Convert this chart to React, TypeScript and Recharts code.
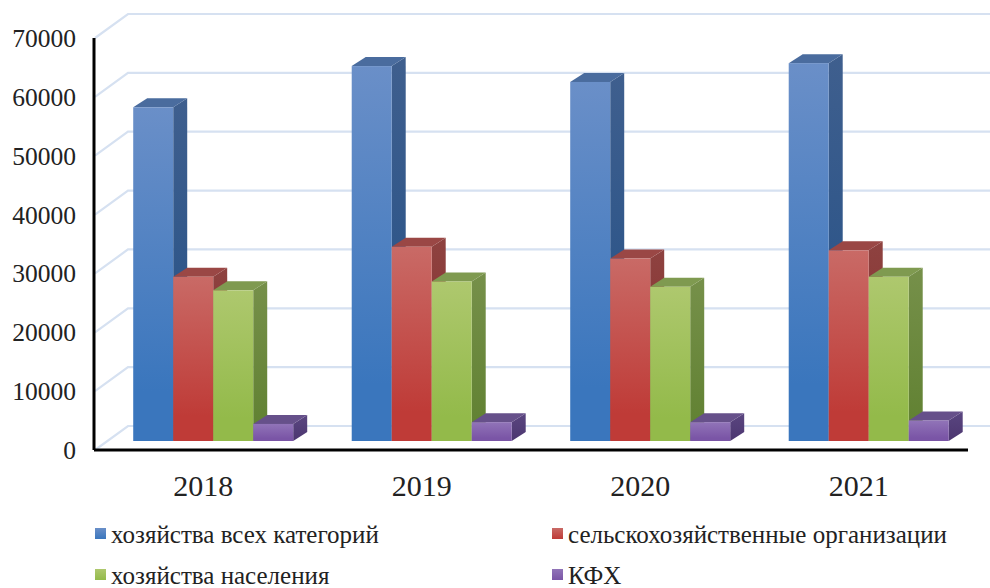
import React from "react";
import { BarChart, Bar, XAxis, YAxis, CartesianGrid, Legend } from "recharts";

const years = ["2018", "2019", "2020", "2021"];
const allFarms = [56700, 63700, 61000, 64200];
const agriOrgs = [27900, 33000, 31000, 32400];
const households = [25600, 27100, 26200, 27900];
const kfh = [2900, 3200, 3200, 3500];
const yTicks = [0, 10000, 20000, 30000, 40000, 50000, 60000, 70000];

const rows = years.map((year, i) => ({
  year,
  all: allFarms[i],
  org: agriOrgs[i],
  house: households[i],
  kfh: kfh[i],
}));

const palette: Record<string, { light: string; base: string; top: string; sideA: string; sideB: string }> = {
  all: { light: "#6a8fc8", base: "#3a76bd", top: "#4a6c9e", sideA: "#3f5f8e", sideB: "#214f86" },
  org: { light: "#c96a66", base: "#bf3b37", top: "#9a4745", sideA: "#8e4240", sideB: "#842a28" },
  house: { light: "#aec86e", base: "#93ba4a", top: "#7f9a50", sideA: "#76904a", sideB: "#5f8030" },
  kfh: { light: "#9174b8", base: "#7a55a6", top: "#66508a", sideA: "#5a4680", sideB: "#4c3670" },
};

const DX = 9.5;
const DY = 9;
const DEPTH_X = 14;
const DEPTH_Y = 9;

const Bar3D = (props: any) => {
  const { x, y, width, height, dataKey } = props;
  const k = String(dataKey);
  const c = palette[k];
  const l = x + DX;
  const t = y - DY;
  const r = l + width;
  const b = t + height;
  return (
    <g>
      <polygon
        points={`${r},${t} ${r + DEPTH_X},${t - DEPTH_Y} ${r + DEPTH_X},${b - DEPTH_Y} ${r},${b}`}
        fill={`url(#side-${k})`}
      />
      <polygon
        points={`${l},${t} ${l + DEPTH_X},${t - DEPTH_Y} ${r + DEPTH_X},${t - DEPTH_Y} ${r},${t}`}
        fill={c.top}
      />
      <rect x={l} y={t} width={width} height={height} fill={`url(#front-${k})`} />
    </g>
  );
};

const GridLine3D = (props: any) => {
  const { x1, y1 } = props;
  return (
    <polyline
      points={`${x1 + 1},${y1} ${x1 + 34},${y1 - 24} 990,${y1 - 24}`}
      fill="none"
      stroke="#d6e1f1"
      strokeWidth={2.2}
    />
  );
};

const legendPos = [
  { left: 95, top: 9 },
  { left: 552, top: 9 },
  { left: 95, top: 50 },
  { left: 552, top: 50 },
];

const LegendBox = (props: any) => {
  const items = props.payload || [];
  return (
    <div style={{ position: "relative", width: 990, height: 73 }}>
      {items.map((it: any, i: number) => {
        const k = String(it.dataKey);
        return (
          <div
            key={k}
            style={{
              position: "absolute",
              left: legendPos[i].left,
              top: legendPos[i].top,
              whiteSpace: "nowrap",
              fontFamily: "'Liberation Serif', serif",
              fontSize: 25,
              lineHeight: "22px",
              color: "#222",
            }}
          >
            <span
              style={{
                display: "inline-block",
                width: 11,
                height: 11,
                marginRight: 5,
                marginBottom: 4,
                background: `linear-gradient(${palette[k].light}, ${palette[k].base})`,
              }}
            />
            {it.value}
          </div>
        );
      })}
    </div>
  );
};

export default function App() {
  return (
    <div style={{ position: "absolute", left: 0, top: 0, width: 990, height: 588, overflow: "hidden", background: "#fff" }}>
      <BarChart
        width={990}
        height={588}
        data={rows}
        margin={{ top: 38, right: 22, bottom: 0, left: 0 }}
        barCategoryGap="13.6%"
        barGap={0}
      >
        <defs>
          {Object.keys(palette).map((k) => (
            <React.Fragment key={k}>
              <linearGradient id={`front-${k}`} x1="0" y1="0" x2="0" y2="1">
                <stop offset="0" stopColor={palette[k].light} />
                <stop offset="0.85" stopColor={palette[k].base} />
                <stop offset="1" stopColor={palette[k].base} />
              </linearGradient>
              <linearGradient id={`side-${k}`} x1="0" y1="0" x2="0" y2="1">
                <stop offset="0" stopColor={palette[k].sideA} />
                <stop offset="1" stopColor={palette[k].sideB} />
              </linearGradient>
            </React.Fragment>
          ))}
        </defs>
        <CartesianGrid vertical={false} horizontal={GridLine3D as any} />
        <XAxis
          dataKey="year"
          height={65}
          tickLine={false}
          tickSize={0}
          tickMargin={25}
          axisLine={{ stroke: "#000", strokeWidth: 3 }}
          tick={{ fontFamily: "Liberation Serif", fontSize: 30, fill: "#222" }}
        />
        <YAxis
          width={94}
          domain={[0, 70000]}
          ticks={yTicks}
          interval={0}
          tickLine={false}
          tickSize={0}
          tickMargin={18}
          axisLine={{ stroke: "#000", strokeWidth: 3 }}
          tick={{ fontFamily: "Liberation Serif", fontSize: 25.5, fill: "#222" }}
        />
        <Legend verticalAlign="bottom" height={73} itemSorter={null} content={LegendBox as any} />
        <Bar dataKey="all" name="хозяйства всех категорий" fill="#3a76bd" isAnimationActive={false} shape={Bar3D} />
        <Bar dataKey="org" name="сельскохозяйственные организации" fill="#bf3b37" isAnimationActive={false} shape={Bar3D} />
        <Bar dataKey="house" name="хозяйства населения" fill="#93ba4a" isAnimationActive={false} shape={Bar3D} />
        <Bar dataKey="kfh" name="КФХ" fill="#7a55a6" isAnimationActive={false} shape={Bar3D} />
      </BarChart>
    </div>
  );
}
